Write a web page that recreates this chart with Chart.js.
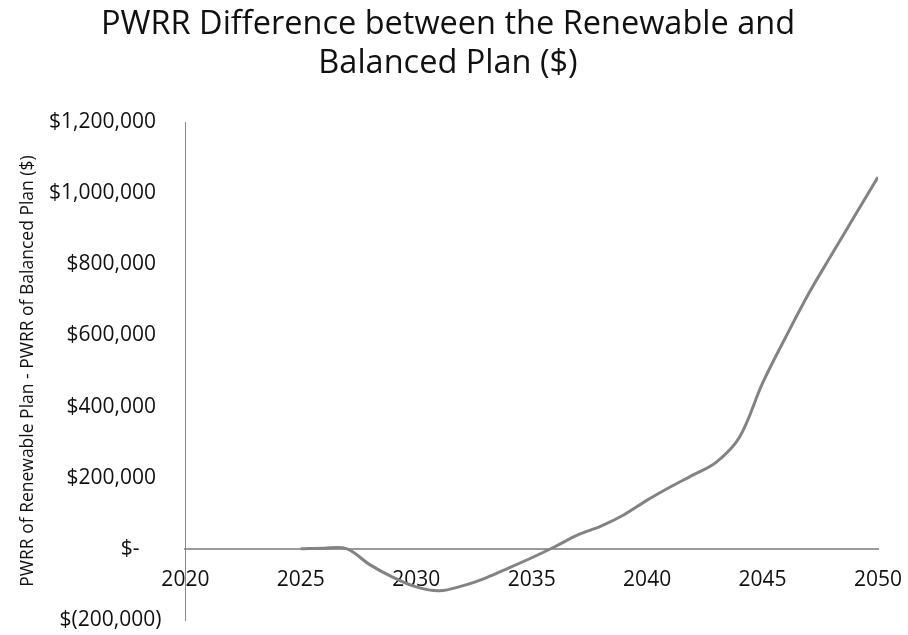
<!DOCTYPE html>
<html>
<head>
<meta charset="utf-8">
<script src="https://cdn.jsdelivr.net/npm/chart.js@4/dist/chart.umd.min.js"></script>
<style>
  html, body { margin: 0; padding: 0; background: #fff; }
  #wrap { width: 908px; height: 635px; }
</style>
</head>
<body>
<div id="wrap"><canvas id="pwrrChart"></canvas></div>
<script>
// years and PWRR difference (Renewable - Balanced)
const years = [2025, 2026, 2027, 2028, 2029, 2030, 2031, 2032, 2033, 2034, 2035, 2036, 2037,
               2038, 2039, 2040, 2041, 2042, 2043, 2044, 2045, 2046, 2047, 2048, 2049, 2050];
const pwrrDiff = [0, 2000, 0, -45000, -80000, -107000, -118000, -104000, -82000, -54000, -25000, 6000, 39000,
                  64000, 96000, 137000, 174000, 208000, 244000, 314000, 466000, 595000, 718000, 828000, 937000, 1045000];
const yTicks = [-200000, 0, 200000, 400000, 600000, 800000, 1000000, 1200000];
const xTicks = [2020, 2025, 2030, 2035, 2040, 2045, 2050];

const font = '"Open Sans", "Liberation Sans", sans-serif';

// accounting style: $1,000 / $(1,000) / $-
function money(v) {
    if (v === 0) return '$-    ';
    const s = Math.abs(v).toLocaleString('en-US');
    return v < 0 ? '$(' + s + ')' : '$' + s + ' ';
}

const ctx = document.getElementById('pwrrChart').getContext('2d');
new Chart(ctx, {
    type: 'line',
    data: {
        datasets: [{
            data: years.map((y, i) => ({ x: y, y: pwrrDiff[i] })),
            borderColor: '#838383',
            borderWidth: 3,
            pointRadius: 0,
            tension: 0.35,
            fill: false
        }]
    },
    options: {
        responsive: true,
        maintainAspectRatio: false,
        animation: false,
        layout: { padding: { left: 18, right: 30, top: 5, bottom: 0 } },
        plugins: {
            legend: { display: false },
            tooltip: { enabled: false },
            title: {
                display: true,
                text: ['PWRR Difference between the Renewable and', 'Balanced Plan ($)'],
                color: '#111',
                font: { family: font, size: 32.5, weight: 'normal' },
                lineHeight: 1.15,
                padding: { top: 0, bottom: 39 }
            }
        },
        scales: {
            x: {
                type: 'linear',
                position: { y: 0 },
                min: 2020,
                max: 2050,
                afterBuildTicks: axis => { axis.ticks = xTicks.map(v => ({ value: v })); },
                afterFit: axis => {
                    axis.paddingLeft = 0;
                    axis.paddingRight = 0;
                },
                ticks: {
                    color: '#111',
                    font: { family: font, size: 21 },
                    padding: 19,
                    maxRotation: 0,
                    callback: v => String(v)
                },
                grid: { display: false, drawTicks: false },
                border: { display: true, color: '#9a9a9a', width: 2, dash: [1, 1] }
            },
            y: {
                min: -200000,
                max: 1200000,
                afterBuildTicks: axis => { axis.ticks = yTicks.map(v => ({ value: v })); },
                afterFit: axis => {
                    axis.width -= 14;
                    axis.paddingTop = 0;
                    axis.paddingBottom = 15;
                },
                ticks: {
                    color: '#111',
                    font: { family: font, size: 21 },
                    padding: 24,
                    callback: v => money(v)
                },
                grid: { display: false, drawTicks: false },
                border: { display: true, color: '#8a8a8a', width: 1 },
                title: {
                    display: true,
                    text: 'PWRR of Renewable Plan - PWRR of Balanced Plan ($)',
                    color: '#111',
                    font: { family: font, size: 17.5 },
                    padding: { top: 0, bottom: 0 }
                }
            }
        }
    }
});
</script>
</body>
</html>
